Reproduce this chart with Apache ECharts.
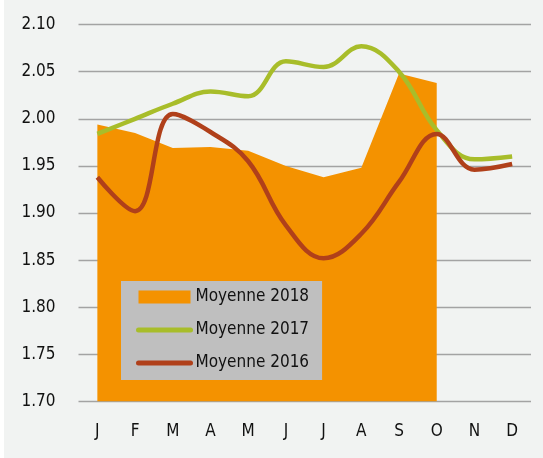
<!DOCTYPE html>
<html>
  <head>
    <meta charset="UTF-8" />
    <title>Moyennes</title>
    <script src="https://cdn.jsdelivr.net/npm/echarts@6.0.0/dist/echarts.min.js"></script>
    <style>
      html, body { margin: 0; padding: 0; background: #ffffff; }
    </style>
  </head>
  <body>
    <div id="chart" style="width: 543px; height: 458px"></div>
  </body>
  <script>
    // month initials on the x axis
    const months = ['J', 'F', 'M', 'A', 'M', 'J', 'J', 'A', 'S', 'O', 'N', 'D'];
    // values
    const moy2018 = [1.994, 1.985, 1.969, 1.970, 1.966, 1.950, 1.938, 1.948, 2.048, 2.038, '-', '-'];
    const moy2017 = [1.984, 2.000, 2.016, 2.029, 2.024, 2.061, 2.055, 2.077, 2.050, 1.988, 1.957, 1.960];
    const moy2016 = [1.938, 1.902, 2.005, 1.986, 1.955, 1.887, 1.852, 1.878, 1.933, 1.984, 1.946, 1.952];
    const names = ['Moyenne 2018', 'Moyenne 2017', 'Moyenne 2016'];

    // condensed face: font-stretch slipped in through the weight slot of the font string
    const font = "'DejaVu Sans', sans-serif";
    const stretch = 'condensed';
    const orange = '#f49200';
    const green = '#a8bd2a';
    const red = '#b0401a';

    let myChart = echarts.init(document.getElementById('chart'));

    myChart.setOption({
      animation: false,
      graphic: [
        { type: 'rect', left: 4, top: 0, z: -10, shape: { width: 539, height: 458 }, style: { fill: '#f1f3f2' } }
      ],
      grid: { left: 78.5, right: 12, top: 24.6, bottom: 56.5 },
      legend: {
        orient: 'vertical',
        left: 121,
        top: 281,
        backgroundColor: '#bfbfbf',
        padding: [6, 13, 7, 15],
        itemWidth: 52,
        itemHeight: 13,
        itemGap: 13,
        textStyle: { fontFamily: font, fontWeight: stretch, fontSize: 17, lineHeight: 20, color: '#111' },
        data: [
          { name: names[0], icon: 'rect', itemStyle: { color: orange, borderWidth: 0 } },
          { name: names[1], itemStyle: { opacity: 0 }, lineStyle: { color: green, width: 5, cap: 'round' } },
          { name: names[2], itemStyle: { opacity: 0 }, lineStyle: { color: red, width: 5, cap: 'round' } }
        ]
      },
      xAxis: {
        type: 'category',
        data: months,
        boundaryGap: true,
        axisLine: { show: false },
        axisTick: { show: false },
        axisLabel: { fontFamily: font, fontWeight: stretch, fontSize: 17, color: '#111', margin: 22 }
      },
      yAxis: {
        type: 'value',
        min: 1.7,
        max: 2.1,
        interval: 0.05,
        axisLine: { show: false },
        axisTick: { show: false },
        splitLine: { lineStyle: { color: '#a3a3a3', width: 1.3 } },
        axisLabel: {
          fontFamily: font, fontWeight: stretch, fontSize: 17, color: '#111', margin: 23,
          formatter: v => v.toFixed(2)
        }
      },
      series: [
        {
          name: names[0],
          type: 'line',
          data: moy2018,
          symbol: 'none',
          color: orange,
          lineStyle: { width: 0, opacity: 0 },
          areaStyle: { color: orange, opacity: 1 },
          z: 1
        },
        {
          name: names[1],
          type: 'line',
          data: moy2017,
          symbol: 'none',
          smooth: 0.4,
          color: green,
          lineStyle: { color: green, width: 4.5 },
          z: 2
        },
        {
          name: names[2],
          type: 'line',
          data: moy2016,
          symbol: 'none',
          smooth: 0.4,
          color: red,
          lineStyle: { color: red, width: 4.5 },
          z: 3
        }
      ]
    });
  </script>
</html>
